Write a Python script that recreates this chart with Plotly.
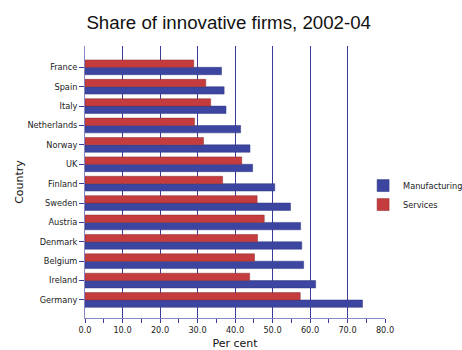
import plotly.graph_objects as go

countries = ["Germany", "Ireland", "Belgium", "Denmark", "Austria", "Sweden",
             "Finland", "UK", "Norway", "Netherlands", "Italy", "Spain", "France"]
manufacturing = [74.0, 61.5, 58.3, 57.8, 57.5, 54.8, 50.6, 44.7, 44.0, 41.5, 37.6, 37.1, 36.4]
services = [57.4, 43.9, 45.2, 46.0, 47.8, 45.9, 36.7, 41.8, 31.6, 29.2, 33.5, 32.2, 29.0]
x_ticks = [0, 10, 20, 30, 40, 50, 60, 70, 80]

axis_col = "#3a3a9a"
fig = go.Figure()
fig.add_trace(go.Bar(y=countries, x=manufacturing, name="Manufacturing", orientation="h",
                     marker=dict(color="#3c46a0", line=dict(color="#2e3680", width=0.5))))
fig.add_trace(go.Bar(y=countries, x=services, name="Services", orientation="h",
                     marker=dict(color="#c43c3e", line=dict(color="#8a2a2e", width=0.5))))

fig.update_layout(
    width=462, height=350,
    margin=dict(l=85, r=77, t=46, b=32, autoexpand=False),
    paper_bgcolor="white", plot_bgcolor="white",
    barmode="group", bargap=0.24, bargroupgap=0,
    title=dict(text="Share of innovative firms, 2002-04", x=0.495, xanchor="center",
               y=0.935, yanchor="middle",
               font=dict(family="Liberation Sans, Arial", size=18.7, color="#111")),
    font=dict(family="DejaVu Sans, Verdana", size=8.2, color="#222"),
    showlegend=True,
    legend=dict(x=0.927, xanchor="left", y=0.452, yanchor="middle",
                font=dict(family="DejaVu Sans, Verdana", size=8.2, color="#222"),
                bgcolor="rgba(0,0,0,0)", itemwidth=30, tracegroupgap=0),
    xaxis=dict(range=[0, 80], tickvals=x_ticks, tickformat=".1f",
               showgrid=True, gridcolor=axis_col, gridwidth=1,
               showline=True, linecolor="#8888c4", linewidth=1,
               ticks="outside", ticklen=4, tickcolor=axis_col,
               minor=dict(dtick=5, ticks="outside", ticklen=4, tickcolor=axis_col, showgrid=False),
               zeroline=False, fixedrange=True, automargin=False,
               title=dict(text="Per cent", standoff=7,
                          font=dict(family="DejaVu Sans, Verdana", size=11, color="#111"))),
    yaxis=dict(type="category", range=[-0.93, 13.1], automargin=False,
               showgrid=False, showline=True, linecolor="#8888c4", linewidth=1,
               ticks="outside", ticklen=5, tickcolor=axis_col,
               title=dict(text="Country", standoff=1,
                          font=dict(family="DejaVu Sans, Verdana", size=11, color="#111"))),
)
fig.write_html("out.html")
